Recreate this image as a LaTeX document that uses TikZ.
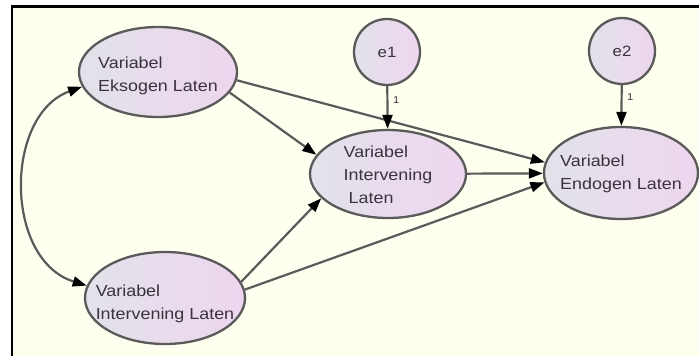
\documentclass[tikz,border=0pt]{standalone}
\usepackage{fontspec}
\newfontfamily\lblfont[FakeStretch=1.12]{Liberation Sans}
\usetikzlibrary{shapes.geometric,arrows.meta}
\definecolor{cream}{HTML}{FFFFF0}
\definecolor{edgegrey}{HTML}{5A5A5A}
\definecolor{txtgrey}{HTML}{3A323E}
\definecolor{fillL}{HTML}{E2E2EA}
\definecolor{fillR}{HTML}{EED6EE}
\tikzset{
  latent/.style={ellipse, draw=edgegrey, line width=2.3pt, left color=fillL, right color=fillR,
    inner sep=0pt},
  lbl/.style={align=left, text=txtgrey, inner sep=0pt,
    font=\lblfont\fontsize{16}{23}\selectfont},
  errc/.style={circle, draw=edgegrey, line width=2.3pt, left color=fillL, right color=fillR,
    minimum size=66pt, inner sep=0pt, text=txtgrey, font=\lblfont\fontsize{15}{18}\selectfont},
  arr/.style={draw=edgegrey, line width=2.2pt, -{Triangle[length=14pt,width=10pt,color=black]}},
  cov/.style={draw=edgegrey, line width=2.2pt,
    {Triangle[length=14pt,width=10pt,color=black]}-{Triangle[length=14pt,width=10pt,color=black]}},
  one/.style={font=\lblfont\fontsize{10}{11}\selectfont, text=txtgrey, inner sep=0pt}
}
\begin{document}
\begin{tikzpicture}[x=1pt,y=-1pt]
\useasboundingbox (0,0) rectangle (699,356);
\fill[white] (0,0) rectangle (699,356);
\fill[cream] (12,6.5) rectangle (699,356);
\draw[black, line width=2.6pt] (12,356) -- (12,6.5) -- (699,6.5);

\node[latent, minimum width=158pt, minimum height=90pt,
  label={[name=eksT, lbl, yshift=-4pt]center:Variabel\\Eksogen Laten}] (eks) at (158,72) {};
\node[latent, minimum width=156pt, minimum height=88pt,
  label={[name=intT, lbl, yshift=-1pt]center:Variabel\\Intervening\\\ Laten}] (int) at (388,174) {};
\node[latent, minimum width=154pt, minimum height=92pt,
  label={[name=endoT, lbl, yshift=-1pt]center:Variabel\\Endogen Laten}] (endo) at (621,173) {};
\node[latent, minimum width=160pt, minimum height=92pt,
  label={[name=intbT, lbl, yshift=-6pt]center:Variabel\\Intervening Laten}] (intb) at (165,298) {};
\node[errc] (e1) at (387,52) {e1};
\node[errc] (e2) at (622,51) {e2};

\draw[cov] (eks.191) .. controls (4,115) and (4,260) .. (intb.171);
\draw[arr] (eks.-16) -- (int.165);
\draw[arr] (eks.-6) -- (endo.172);
\draw[arr] (int) -- (endo);
\draw[arr] (intb.12) -- (int.200);
\draw[arr] (intb.6) -- (endo.187);
\draw[arr] (e1) -- (int);
\draw[arr] (e2) -- (endo);
\node[one, anchor=west] (l1) at (393,100) {1};
\node[one, anchor=west] (l2) at (627,97) {1};
\end{tikzpicture}
\end{document}
